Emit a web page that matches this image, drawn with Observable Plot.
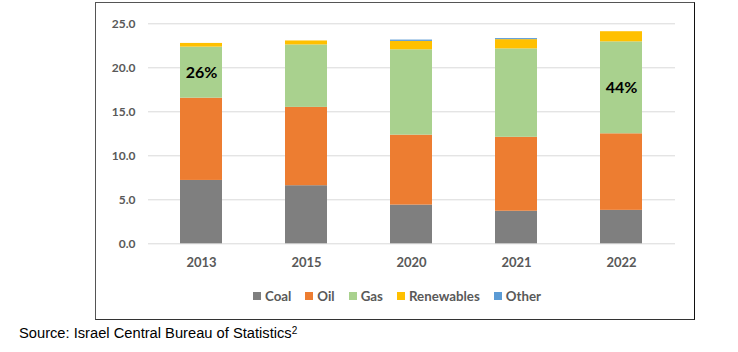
<!DOCTYPE html>
<html>
<head>
<meta charset="utf-8">
<script src="https://cdn.jsdelivr.net/npm/d3@7"></script>
<script src="https://cdn.jsdelivr.net/npm/@observablehq/plot@0.6"></script>
<style>
  html, body { margin: 0; padding: 0; background: #fff; width: 738px; height: 352px; overflow: hidden; }
  #box { position: absolute; left: 95px; top: 2px; width: 598px; height: 316px; border: 1px solid #555; border-right: 1.5px solid #111; border-bottom: 1.5px solid #333; }
  #chart { position: absolute; left: 0; top: 0; }
  #legend { position: absolute; left: 157px; top: 285px; display: flex; align-items: center; font-family: Lato, "Open Sans", sans-serif; font-weight: bold; font-size: 13.3px; color: #595959; }
  #legend .item { display: flex; align-items: center; margin-right: 14px; }
  #legend .sw { width: 8px; height: 8px; margin-right: 4px; }
  #source { position: absolute; left: 19px; top: 325px; font-family: "Liberation Sans", Arial, sans-serif; font-size: 14.7px; color: #000; }
  #source sup { font-size: 10px; vertical-align: 4px; line-height: 0; }
</style>
</head>
<body>
<div id="box">
  <div id="chart"></div>
  <div id="legend"></div>
</div>
<div id="source">Source: Israel Central Bureau of Statistics<sup>2</sup></div>
<script>
const years = ["2013", "2015", "2020", "2021", "2022"];
const sources = ["Coal", "Oil", "Gas", "Renewables", "Other"];
const colors = ["#7f7f7f", "#ed7d31", "#a9d18e", "#ffc000", "#5b9bd5"];
const coal = [7.2, 6.6, 4.4, 3.7, 3.8];
const oil = [9.35, 8.9, 7.95, 8.4, 8.7];
const gas = [5.8, 7.1, 9.7, 10.05, 10.45];
const renewables = [0.42, 0.45, 0.95, 1.05, 1.15];
const other = [0, 0, 0.15, 0.12, 0];
const yTicks = [0, 5, 10, 15, 20, 25];
const annoYears = ["2013", "2022"];
const annoLabels = ["26%", "44%"];

const series = [coal, oil, gas, renewables, other];
const rows = [];
years.forEach((yr, i) => {
  sources.forEach((s, j) => rows.push({year: yr, source: s, value: series[j][i]}));
});
const annos = annoYears.map((yr, k) => {
  const i = years.indexOf(yr);
  return {year: yr, label: annoLabels[k], y: coal[i] + oil[i] + gas[i] / 2};
});

const plot = Plot.plot({
  width: 598,
  height: 275,
  marginTop: 20.3,
  marginBottom: 34.7,
  marginLeft: 52,
  marginRight: 19,
  style: {fontFamily: "Lato, 'Open Sans', sans-serif", color: "#595959", background: "transparent"},
  x: {domain: years, paddingInner: 0.6, paddingOuter: 0.3, label: null},
  y: {domain: [0, 25], label: null},
  color: {domain: sources, range: colors},
  marks: [
    Plot.gridY(yTicks, {stroke: "#d9d9d9", strokeOpacity: 1, strokeWidth: 1}),
    Plot.barY(rows, {x: "year", y: "value", fill: "source", order: sources}),
    Plot.text(annos, {x: "year", y: "y", text: "label", fill: "black", fontSize: 16, fontWeight: "bold", fontFamily: "Lato, sans-serif"}),
    Plot.axisY({ticks: yTicks, tickSize: 0, tickPadding: 13, tickFormat: d3.format(".1f"), fontSize: 12, fontWeight: "bold", label: null}),
    Plot.axisX({tickSize: 0, tickPadding: 14, fontSize: 13, fontWeight: "bold", label: null})
  ]
});
document.getElementById("chart").appendChild(plot);

const legend = document.getElementById("legend");
sources.forEach((s, j) => {
  const item = document.createElement("div");
  item.className = "item";
  const sw = document.createElement("div");
  sw.className = "sw";
  sw.style.background = colors[j];
  const t = document.createElement("span");
  t.textContent = s;
  item.appendChild(sw);
  item.appendChild(t);
  legend.appendChild(item);
});
</script>
</body>
</html>
